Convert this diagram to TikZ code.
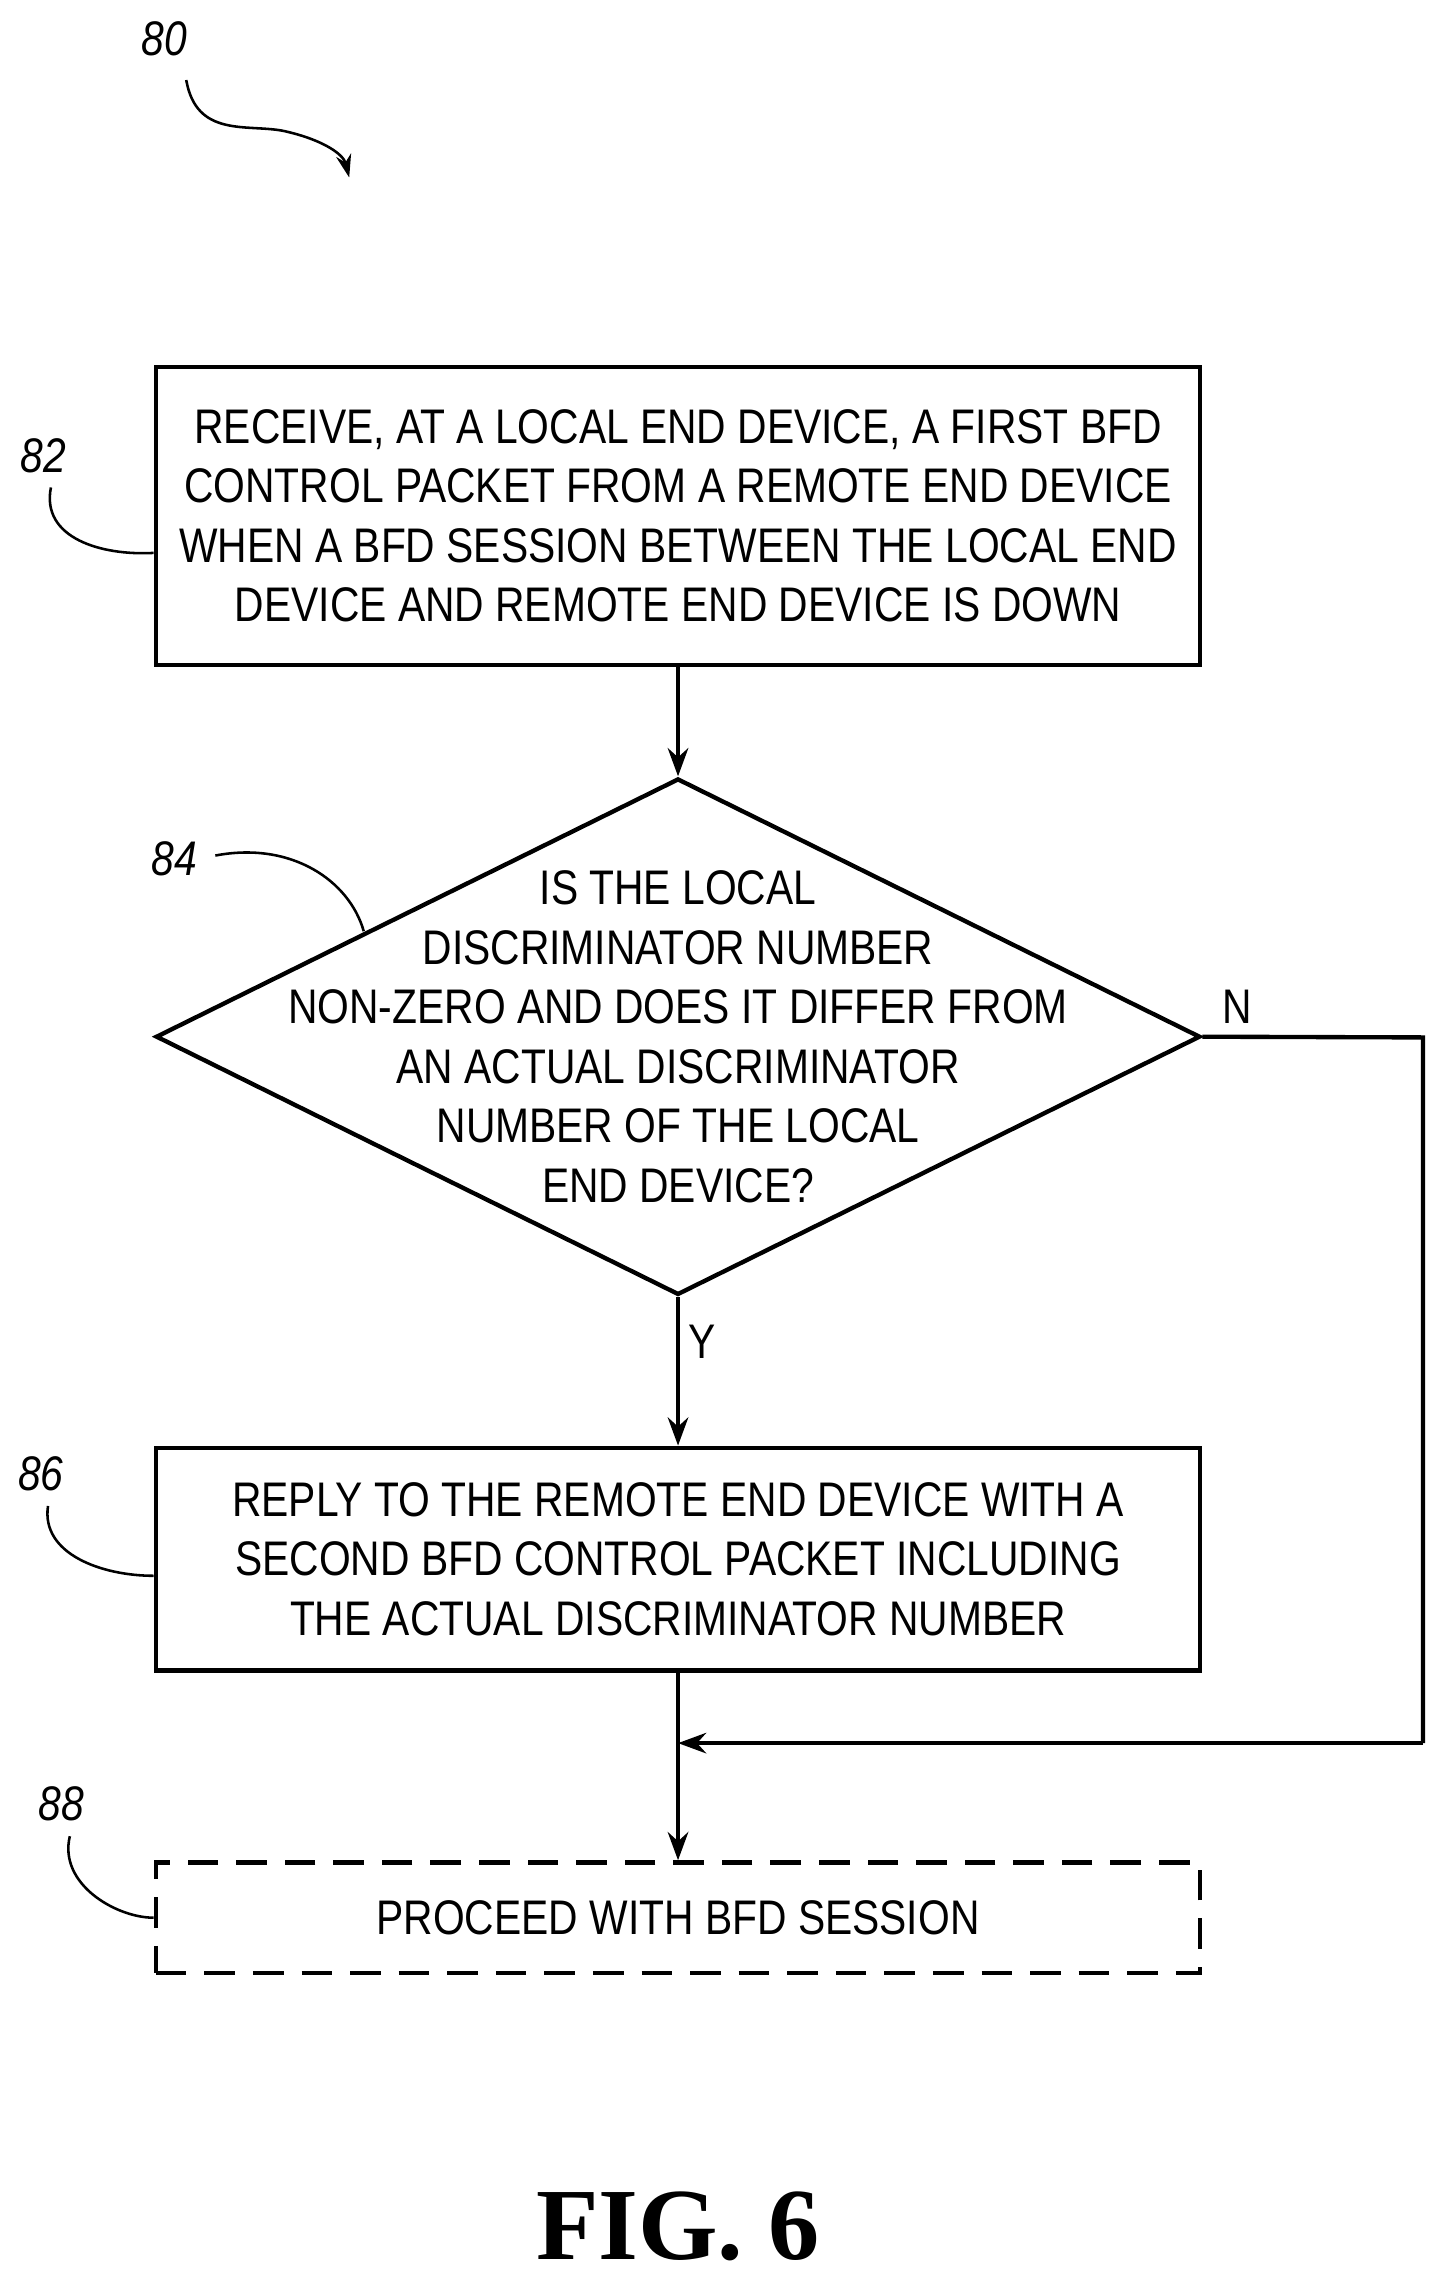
\documentclass[tikz,border=0pt]{standalone}
\usepackage{fontspec}
\setmainfont[FakeStretch=0.84]{Liberation Sans}
\newfontfamily\figfont{Liberation Serif}
\usetikzlibrary{shapes.geometric,arrows.meta,positioning}

\tikzset{
  stepbox/.style={draw,line width=1.7pt,minimum width=14.36cm,align=center,
    font=\fontsize{19}{23.3}\selectfont,inner sep=0pt},
  flow/.style={line width=1.7pt,-{Stealth[length=11pt,width=8pt]}},
  lead/.style={line width=1pt},
  refnum/.style={font=\itshape\fontsize{19}{22}\selectfont}
}

\begin{document}
\begin{tikzpicture}[x=0.02cm,y=-0.02cm]
    \useasboundingbox (0,0) rectangle (1000,1578);

    % Steps
    \node[stepbox,minimum height=4.1cm] (s82) at (466,354.5)
      {RECEIVE, AT A LOCAL END DEVICE, A FIRST BFD\\CONTROL PACKET FROM A REMOTE END DEVICE\\WHEN A BFD SESSION BETWEEN THE LOCAL END\\DEVICE AND REMOTE END DEVICE IS DOWN};
    \node[draw,diamond,line width=1.7pt,minimum width=14.36cm,minimum height=7.1cm,inner sep=0pt] (d84) at (466,712.5) {};
    \node[align=center,font=\fontsize{19}{23.3}\selectfont] at (d84)
      {IS THE LOCAL\\DISCRIMINATOR NUMBER\\NON-ZERO AND DOES IT DIFFER FROM\\AN ACTUAL DISCRIMINATOR\\NUMBER OF THE LOCAL\\END DEVICE?};
    \node[stepbox,minimum height=3.06cm] (s86) at (466,1071.5)
      {REPLY TO THE REMOTE END DEVICE WITH A\\SECOND BFD CONTROL PACKET INCLUDING\\THE ACTUAL DISCRIMINATOR NUMBER};
    \node[stepbox,dashed,dash pattern=on 12pt off 7pt,minimum height=1.52cm] (s88) at (466,1318)
      {PROCEED WITH BFD SESSION};

    % Flows
    \coordinate (join) at (466,1198);
    \coordinate (nright) at (978,713);
    \draw[flow] (s82) -- (d84);
    \draw[flow] (d84) -- node[right,pos=0.3,font=\fontsize{19}{22}\selectfont] {Y} (s86);
    \draw[flow] (s86) -- (s88);
    \draw[line width=1.7pt] (d84.east) -- (nright) -- (nright |- join);
    \draw[flow] (nright |- join) -- (join);
    \node[font=\fontsize{19}{22}\selectfont] (nlab) at (850,692) {N};

    % Reference numerals
    \node[refnum] (r80) at (113,27) {80};
    \draw[lead,-{Stealth[length=9pt,width=6pt]}] (128,55) .. controls (135,95) and (170,85) .. (195,90) .. controls (222,96) and (236,106) .. (240,122);
    \node[refnum] (r82) at (30,313) {82};
    \draw[lead] (35,335) .. controls (28,370) and (70,382) .. (s82.west |- 0,380);
    \node[refnum] (r84) at (120,590) {84};
    \draw[lead] (148,588) .. controls (200,578) and (240,605) .. (250,640);
    \node[refnum] (r86) at (28,1013) {86};
    \draw[lead] (33,1035) .. controls (28,1068) and (70,1083) .. (s86.west |- 0,1083);
    \node[refnum] (r88) at (42,1240) {88};
    \draw[lead] (48,1262) .. controls (40,1295) and (80,1318) .. (s88.west);

    \node[font=\figfont\bfseries\fontsize{40}{44}\selectfont] (fig) at (466,1530) {FIG. 6};
\end{tikzpicture}
\end{document}
